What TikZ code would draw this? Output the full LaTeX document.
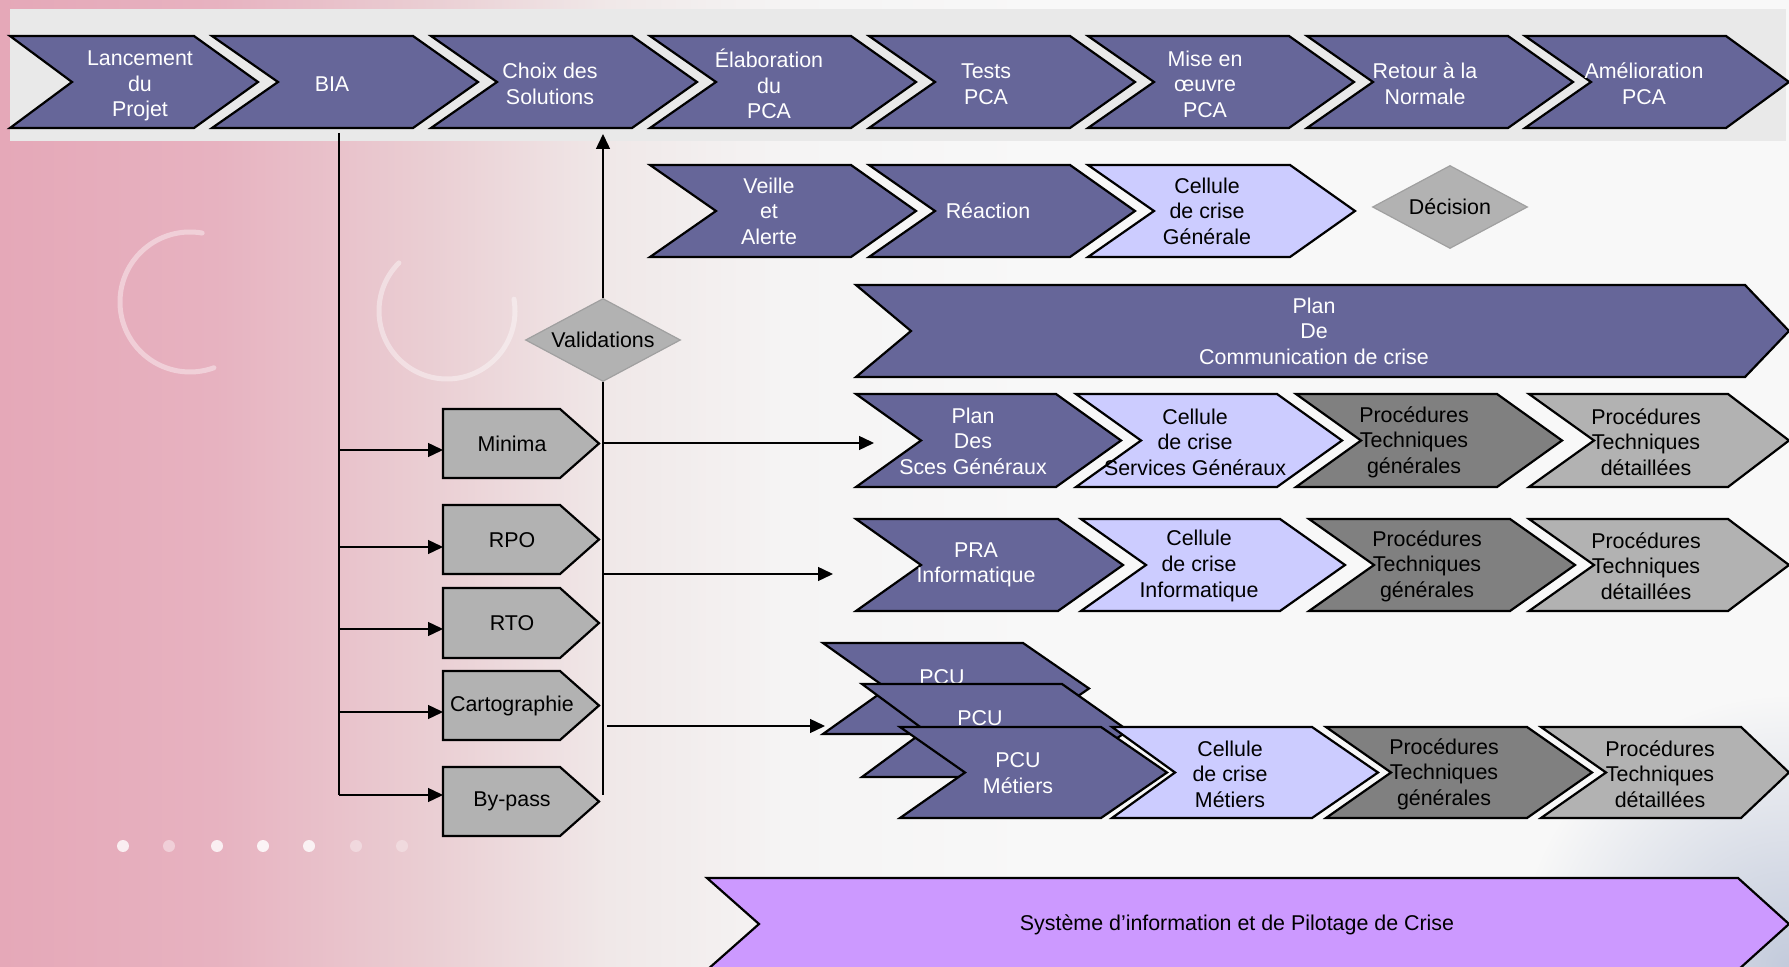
\documentclass[tikz,border=0pt]{standalone}
\usepackage{fontspec}
\setmainfont{Liberation Sans}
\usetikzlibrary{arrows.meta,shapes.geometric,fadings}

% palette
\definecolor{chevDark}{RGB}{102,102,153}
\definecolor{chevLight}{RGB}{204,204,255}
\definecolor{procDark}{RGB}{128,128,128}
\definecolor{procLight}{RGB}{178,178,178}
\definecolor{sysPurple}{RGB}{204,153,255}
\definecolor{barGray}{RGB}{233,233,233}
\definecolor{diaGray}{RGB}{178,178,178}
\definecolor{diaEdge}{RGB}{160,160,160}
\definecolor{bgA}{RGB}{229,168,184}
\definecolor{bgB}{RGB}{231,178,192}
\definecolor{bgC}{RGB}{234,206,211}
\definecolor{bgD}{RGB}{240,232,232}
\definecolor{bgE}{RGB}{245,244,244}
\definecolor{bgF}{RGB}{248,248,248}
\definecolor{bgBlue}{RGB}{186,195,215}

% page background: pink on the left, fading to white
\pgfdeclarehorizontalshading{bgshade}{100bp}{%
  color(0bp)=(bgA); color(25bp)=(bgA); color(31bp)=(bgB);
  color(37bp)=(bgC); color(42bp)=(bgD); color(47bp)=(bgE);
  color(54bp)=(bgF); color(100bp)=(bgF)}
\tikzfading[name=softdisc, inner color=transparent!15, outer color=transparent!100]

\begin{document}
\begin{tikzpicture}[x=0.5pt, y=-0.5pt,
  % chevron outline: left x, top y, body right x, bottom y, notch depth, tip depth
  chev/.style n args={6}{insert path={(#1,#2) -- (#3,#2) -- ({#3+#6},{(#2+#4)/2})
      -- (#3,#4) -- (#1,#4) -- ({#1+#5},{(#2+#4)/2}) -- cycle}},
  % pentagon tag: left x, top y, body right x, bottom y, tip depth
  tag/.style n args={5}{insert path={(#1,#2) -- (#3,#2) -- ({#3+#5},{(#2+#4)/2})
      -- (#3,#4) -- (#1,#4) -- cycle}},
  outlined/.style={draw=black, line width=1.1pt, line join=miter},
  cdark/.style={outlined, fill=chevDark},
  clight/.style={outlined, fill=chevLight},
  cgray/.style={outlined, fill=procDark},
  cpale/.style={outlined, fill=procLight},
  cpurple/.style={outlined, fill=sysPurple},
  lbl/.style={align=center, inner sep=0pt, font=\fontsize{10.7}{12.8}\selectfont},
  wl/.style={lbl, text=white},
  bl/.style={lbl, text=black},
  dia/.style={diamond, aspect=1.87, minimum width=77.5pt, minimum height=41.5pt,
      inner sep=0pt, fill=diaGray, draw=diaEdge, line width=0.6pt,
      font=\fontsize{10.7}{12.8}\selectfont},
  conn/.style={line width=0.7pt, draw=black},
  arr/.style={conn, -{Triangle[length=7.5pt, width=7pt]}},
  decor/.style={draw=white, line width=2.5pt, opacity=0.4, line cap=round}
]
\useasboundingbox (0,0) rectangle (1789,967);

% ---- background ----
\shade[shading=bgshade] (0,0) rectangle (1789,967);
\fill[bgBlue, path fading=softdisc] (1789,967) circle (270);
\draw[decor] ([shift={(-80:70)}]190,302) arc[start angle=-80, end angle=-290, radius=70];
\draw[decor] ([shift={(225:68)}]447,311) arc[start angle=225, end angle=-10, radius=68];
\foreach \dx/\op in {123/0.8, 169/0.4, 217/0.8, 263/0.85, 309/0.8, 356/0.35, 402/0.3}
  \fill[white, opacity=\op] (\dx,846) circle (6);

% ---- main process bar ----
\fill[barGray] (10,9) rectangle (1786,141);
\draw[cdark, chev={10}{36}{194}{128}{62}{64}];
\node[wl] (lancement) at (140,86) {Lancement\\du\\Projet};
\draw[cdark, chev={212}{36}{413}{128}{66}{65}];
\node[wl] (bia) at (332,84) {BIA};
\draw[cdark, chev={431}{36}{632}{128}{66}{65}];
\node[wl] (choix) at (550,84) {Choix des\\Solutions};
\draw[cdark, chev={650}{36}{851}{128}{66}{65}];
\node[wl] (elab) at (769,84) {Élaboration\\du\\PCA};
\draw[cdark, chev={869}{36}{1070}{128}{66}{65}];
\node[wl] (tests) at (986,84) {Tests\\PCA};
\draw[cdark, chev={1088}{36}{1289}{128}{66}{65}];
\node[wl] (miseoeuvre) at (1205,84) {Mise en\\œuvre\\PCA};
\draw[cdark, chev={1307}{36}{1508}{128}{66}{65}];
\node[wl] (retour) at (1425,84) {Retour à la\\Normale};
\draw[cdark, chev={1525}{36}{1726}{128}{66}{63}];
\node[wl] (amelio) at (1644,84) {Amélioration\\PCA};

% ---- alert chain ----
\draw[cdark, chev={650}{165}{851}{257}{66}{65}];
\node[wl] (veille) at (769,211) {Veille\\et\\Alerte};
\draw[cdark, chev={869}{165}{1070}{257}{66}{65}];
\node[wl] (reaction) at (988,211) {Réaction};
\draw[clight, chev={1088}{165}{1290}{257}{66}{65}];
\node[bl] (cellgen) at (1207,211) {Cellule\\de crise\\Générale};
\node[dia] (decision) at (1450,207) {Décision};

% ---- crisis communication plan ----
\draw[cdark, chev={856}{285}{1745}{377}{55}{44}];
\node[wl] (comm) at (1314,331) {Plan\\De\\Communication de crise};

% ---- general services ----
\draw[cdark, chev={856}{394}{1056}{487}{65}{65}];
\node[wl] (plansg) at (973,441) {Plan\\Des\\Sces Généraux};
\draw[clight, chev={1076}{394}{1277}{487}{65}{65}];
\node[bl] (cellsg) at (1195,442) {Cellule\\de crise\\Services Généraux};
\draw[cgray, chev={1296}{394}{1497}{487}{65}{65}];
\node[bl] (procgen1) at (1414,442) {Procédures\\Techniques\\générales};
\draw[cpale, chev={1529}{394}{1728}{487}{65}{61}];
\node[bl] (procdet1) at (1646,442) {Procédures\\Techniques\\détaillées};

% ---- IT recovery ----
\draw[cdark, chev={856}{519}{1058}{611}{65}{65}];
\node[wl] (pra) at (976,565) {PRA\\Informatique};
\draw[clight, chev={1081}{519}{1280}{611}{65}{65}];
\node[bl] (cellinfo) at (1199,566) {Cellule\\de crise\\Informatique};
\draw[cgray, chev={1309}{519}{1510}{611}{65}{65}];
\node[bl] (procgen2) at (1427,566) {Procédures\\Techniques\\générales};
\draw[cpale, chev={1529}{519}{1728}{611}{65}{61}];
\node[bl] (procdet2) at (1646,566) {Procédures\\Techniques\\détaillées};

% ---- business continuity (stacked plans) ----
\draw[cdark, chev={823}{643}{1023}{734}{64}{66}];
\node[wl] (pcu1) at (942,677) {PCU};
\draw[cdark, chev={862}{684}{1062}{777}{63}{66}];
\node[wl] (pcu2) at (980,718) {PCU};
\draw[cdark, chev={900}{727}{1101}{818}{65}{66}];
\node[wl] (pcu3) at (1018,773) {PCU\\Métiers};
\draw[clight, chev={1112}{727}{1312}{818}{63}{66}];
\node[bl] (cellmet) at (1230,774) {Cellule\\de crise\\Métiers};
\draw[cgray, chev={1326}{727}{1527}{818}{65}{65}];
\node[bl] (procgen3) at (1444,774) {Procédures\\Techniques\\générales};
\draw[cpale, chev={1541}{727}{1741}{818}{65}{48}];
\node[bl] (procdet3) at (1660,774) {Procédures\\Techniques\\détaillées};

% ---- information system ----
\draw[cpurple, chev={707}{878}{1738}{970}{52}{51}];
\node[bl] (sipc) at (1237,925) {Système d’information et de Pilotage de Crise};

% ---- BIA outputs ----
\draw[cpale, tag={443}{409}{560}{478}{39}];
\node[bl] (minima) at (512,444) {Minima};
\draw[cpale, tag={443}{505}{560}{574}{39}];
\node[bl] (rpo) at (512,540) {RPO};
\draw[cpale, tag={443}{588}{560}{658}{39}];
\node[bl] (rto) at (512,623) {RTO};
\draw[cpale, tag={443}{671}{560}{740}{39}];
\node[bl] (carto) at (512,706) {Cartographie};
\draw[cpale, tag={443}{767}{560}{836}{39}];
\node[bl] (bypass) at (512,801) {By-pass};

\node[dia] (valid) at (603,340) {Validations};

% ---- connectors ----
\coordinate (biaout) at (339,133);
\coordinate (biaend) at (339,795);
\coordinate (in-minima) at (443,450);
\coordinate (in-rpo) at (443,547);
\coordinate (in-rto) at (443,629);
\coordinate (in-carto) at (443,712);
\coordinate (in-bypass) at (443,795);
\coordinate (choixin) at (603,134);
\coordinate (validend) at (603,795);
\coordinate (in-sg) at (874,443);
\coordinate (in-pra) at (833,574);
\coordinate (in-pcu) at (825,726);

\draw[conn] (biaout) -- (biaend);
\foreach \t in {minima, rpo, rto, carto, bypass}
  \draw[arr] (biaout |- in-\t) -- (in-\t);

\draw[arr] (valid.north) -- (choixin);
\draw[conn] (valid.south) -- (validend);
\foreach \t in {sg, pra}
  \draw[arr] (valid.south |- in-\t) -- (in-\t);
\draw[arr] ([xshift=2pt]valid.south |- in-pcu) -- (in-pcu);
\end{tikzpicture}
\end{document}
